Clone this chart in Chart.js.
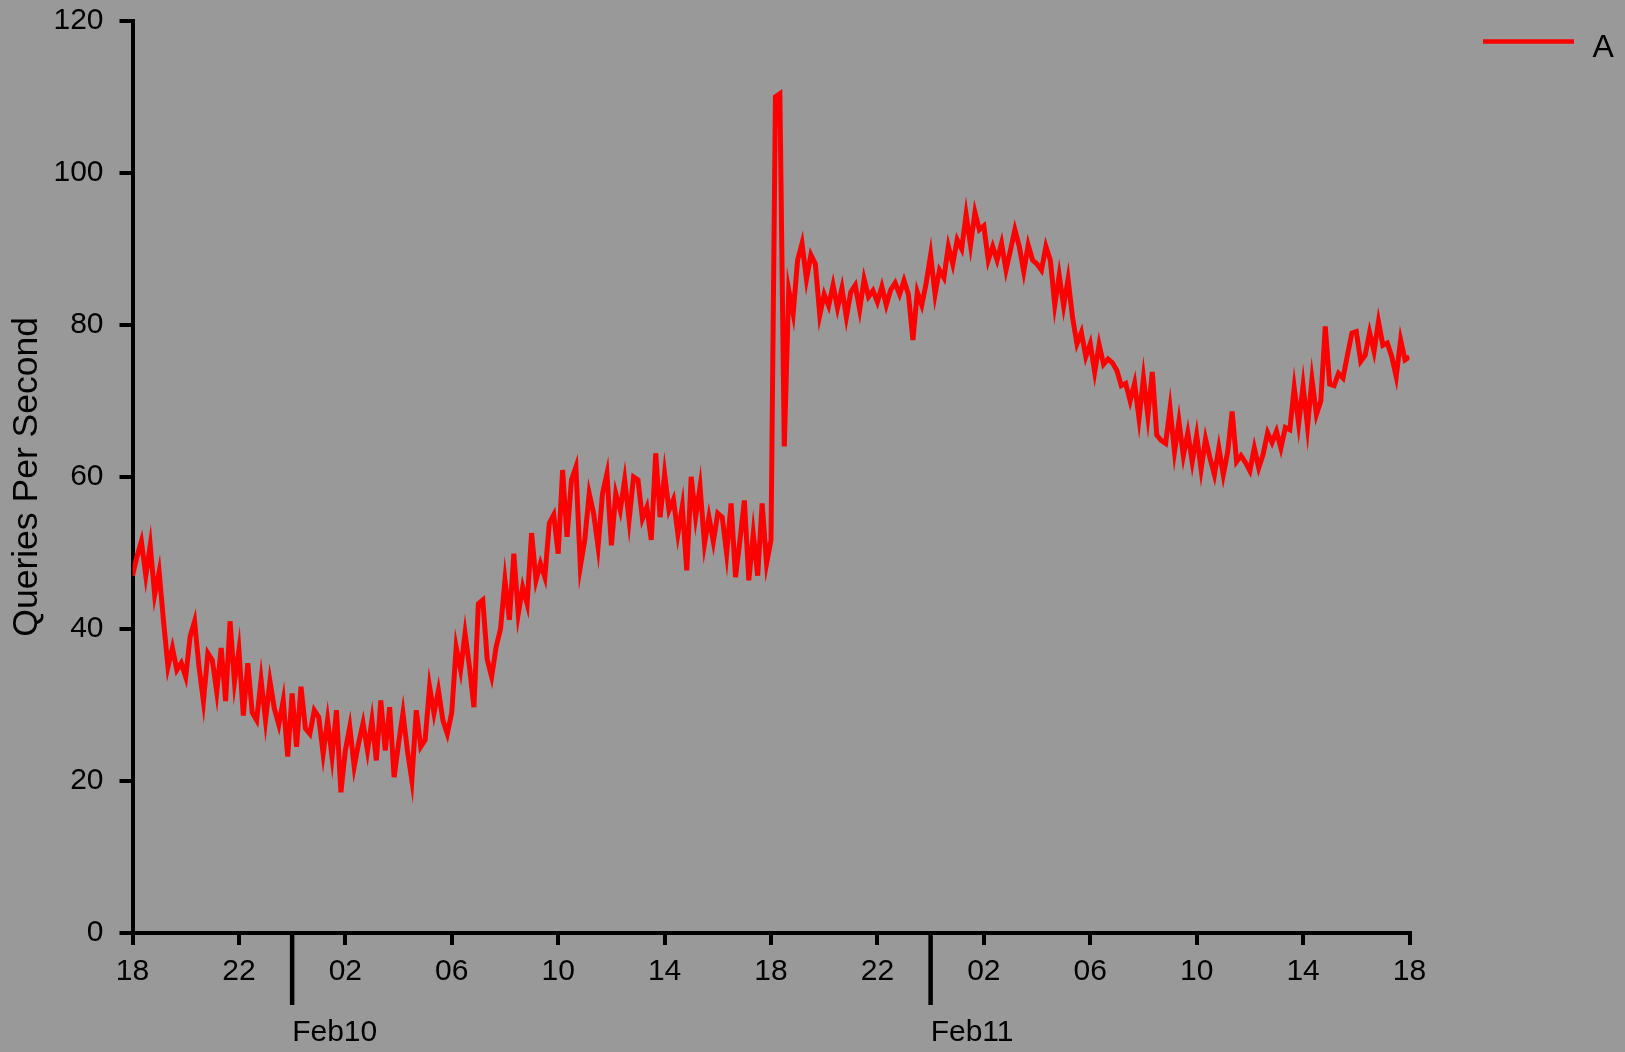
<!DOCTYPE html>
<html>
<head>
<meta charset="utf-8">
<script src="https://cdn.jsdelivr.net/npm/chart.js@4.4.0/dist/chart.umd.min.js"></script>
<style>
html, body { margin: 0; padding: 0; background: #999999; overflow: hidden; }
canvas { display: block; }
</style>
</head>
<body>
<canvas id="c" width="1625" height="1052"></canvas>
<script>
// ---- data ----
const seriesLabel = 'A';
const sampleMinutes = 10;            // one sample every 10 minutes, starting Feb 9 18:00
const hourTickLabels = ['18','22','02','06','10','14','18','22','02','06','10','14','18'];
const hourTickStep = 4;              // hours between tick labels
const dayLabels = ['Feb10', 'Feb11'];
const dayBoundaryHours = [6, 30];    // hours after start where a new day begins
const yTickValues = [0, 20, 40, 60, 80, 100, 120];
const yAxisTitle = 'Queries Per Second';

// queries per second, one row per hour (6 samples per hour)
const qps = [
  47, 49.5, 51.5, 47, 51, 44.5,
  47.5, 41, 35, 37.5, 34.6, 35.5,
  33.7, 39, 41, 35, 30.5, 36.8,
  35.9, 31.7, 37.5, 30.5, 41, 33,
  37.2, 28.6, 35.5, 29, 28, 33.3,
  28, 33.1, 29.5, 27.4, 30.6, 23.2,
  31.5, 24.5, 32.4, 26.9, 26.2, 29.3,
  28.4, 23.6, 28, 23.2, 29.3, 18.5,
  24, 27.1, 21.9, 25, 27.6, 24,
  28, 22.7, 30.6, 24, 29.7, 20.5,
  24.9, 28.9, 24, 20.1, 29.3, 24.5,
  25.4, 32.4, 28.9, 31.9, 28, 26.2,
  29, 37.6, 34.6, 39.4, 35, 29.7,
  43.3, 43.8, 36, 33.7, 37.6, 40,
  46.4, 41.2, 49.9, 42, 45.5, 43.3,
  52.6, 46.4, 48.6, 46.8, 53.9, 55,
  49.9, 60.9, 52.1, 59.6, 61.3, 48.2,
  51.7, 57.8, 55.2, 50.8, 57.8, 60.4,
  51, 57.8, 55.6, 59.6, 54.3, 60,
  59.6, 54.5, 56, 51.7, 63.1, 54.7,
  60.4, 55.6, 57, 52.5, 56.1, 47.7,
  60, 54.7, 58.7, 51.2, 54.7, 51.5,
  55.2, 54.7, 49.9, 56.5, 46.8, 51.7,
  56.9, 46.4, 52.5, 47, 56.5, 48.6,
  51.7, 110, 110.4, 64, 84.6, 81.5,
  88.5, 90.7, 86, 89.2, 88, 81.3,
  84, 82.5, 85.2, 82.2, 84.8, 81,
  84.3, 85.2, 82, 86, 83.7, 84.5,
  83, 85, 82.6, 84.6, 85.5, 84,
  85.8, 84, 78, 84.3, 82.6, 85.5,
  89.2, 84, 87.2, 86.2, 90.3, 88,
  91.2, 90, 94.5, 90.5, 94.8, 92.5,
  93, 88.5, 90.3, 88.5, 90.7, 87.2,
  89.8, 92.5, 90.3, 87, 90.5, 88.5,
  88, 87.2, 90.3, 88.5, 82.6, 86.5,
  82.5, 86, 81, 77.5, 79, 75.8,
  77.5, 73.8, 77.4, 74.8, 75.5, 75,
  74, 72, 72.3, 70, 72.3, 67.7,
  73, 68, 73.8, 65.5, 64.8, 64.4,
  69, 63.3, 67.3, 62.8, 65.8, 62,
  65.5, 61, 65, 62.5, 60.3, 63.8,
  60.3, 63.3, 68.6, 62, 62.8, 61.9,
  60.8, 63.8, 61.2, 63, 65.8, 64.5,
  66, 63.8, 66.5, 66.2, 71.7, 67,
  72, 66.6, 72.8, 68.2, 70, 79.8,
  72.2, 72, 73.6, 73, 76, 78.9,
  79.1, 75.2, 76, 79, 76.5, 80.4,
  77.3, 77.6, 75.8, 73.2, 78, 75.4,
  75.8
];

// ---- chart ----
const FONT = "'Liberation Sans', Arial, Helvetica, sans-serif";
const TICK_FONT_SIZE = 30;
const points = qps.map((v, i) => ({ x: i * sampleMinutes / 60, y: v }));

const dayPlugin = {
  id: 'dayMarks',
  afterDraw(chart) {
    const { ctx, chartArea } = chart;
    const x = chart.scales.x;
    ctx.save();
    ctx.strokeStyle = '#000';
    ctx.fillStyle = '#000';
    ctx.lineWidth = 4.5;
    ctx.font = TICK_FONT_SIZE + 'px ' + FONT;
    ctx.textAlign = 'left';
    ctx.textBaseline = 'alphabetic';
    dayBoundaryHours.forEach((h, i) => {
      const px = x.getPixelForValue(h);
      ctx.beginPath();
      ctx.moveTo(px, chartArea.bottom);
      ctx.lineTo(px, chartArea.bottom + 72);
      ctx.stroke();
      ctx.fillText(dayLabels[i], px, chartArea.bottom + 107.5);
    });
    ctx.restore();
  }
};

const legendPlugin = {
  id: 'sideLegend',
  afterDraw(chart) {
    const { ctx } = chart;
    const ds = chart.data.datasets[0];
    ctx.save();
    ctx.strokeStyle = ds.borderColor;
    ctx.lineWidth = 4.5;
    ctx.beginPath();
    ctx.moveTo(1483, 41.5);
    ctx.lineTo(1574, 41.5);
    ctx.stroke();
    ctx.fillStyle = '#000';
    ctx.font = '32px ' + FONT;
    ctx.textAlign = 'left';
    ctx.textBaseline = 'alphabetic';
    ctx.fillText(ds.label, 1592.5, 57);
    ctx.restore();
  }
};

new Chart(document.getElementById('c').getContext('2d'), {
  type: 'line',
  data: {
    datasets: [{
      label: seriesLabel,
      data: points,
      borderColor: '#ff0000',
      backgroundColor: '#ff0000',
      borderWidth: 5,
      pointRadius: 0,
      pointHoverRadius: 0,
      tension: 0,
      fill: false
    }]
  },
  options: {
    responsive: false,
    animation: false,
    devicePixelRatio: 1,
    layout: { padding: { top: 20.7, right: 215.5, bottom: 0, left: 0 } },
    plugins: { legend: { display: false }, tooltip: { enabled: false } },
    scales: {
      x: {
        type: 'linear',
        min: 0,
        max: (hourTickLabels.length - 1) * hourTickStep,
        afterFit: s => { s.height = 119; s.paddingLeft = 0; s.paddingRight = 0; },
        afterBuildTicks: s => { s.ticks = hourTickLabels.map((_, i) => ({ value: i * hourTickStep })); },
        ticks: {
          autoSkip: false, maxRotation: 0, minRotation: 0, padding: 9,
          color: '#000', font: { family: FONT, size: TICK_FONT_SIZE },
          callback: (v, i) => hourTickLabels[i]
        },
        grid: { drawOnChartArea: false, drawTicks: true, tickLength: 12, tickWidth: 4, tickColor: '#000', color: '#000', lineWidth: 4 },
        border: { display: true, color: '#000', width: 4 }
      },
      y: {
        type: 'linear',
        min: yTickValues[0],
        max: yTickValues[yTickValues.length - 1],
        afterFit: s => { s.width = 132.5; s.paddingTop = 0; s.paddingBottom = 0; },
        afterBuildTicks: s => { s.ticks = yTickValues.map(v => ({ value: v })); },
        ticks: { padding: 16, color: '#000', font: { family: FONT, size: TICK_FONT_SIZE } },
        grid: { drawOnChartArea: false, drawTicks: true, tickLength: 13, tickWidth: 4, tickColor: '#000', color: '#000', lineWidth: 4 },
        border: { display: true, color: '#000', width: 4 },
        title: { display: true, text: yAxisTitle, color: '#000', font: { family: FONT, size: 35.5 }, padding: { top: 6, bottom: 0 } }
      }
    }
  },
  plugins: [dayPlugin, legendPlugin]
});
</script>
</body>
</html>
